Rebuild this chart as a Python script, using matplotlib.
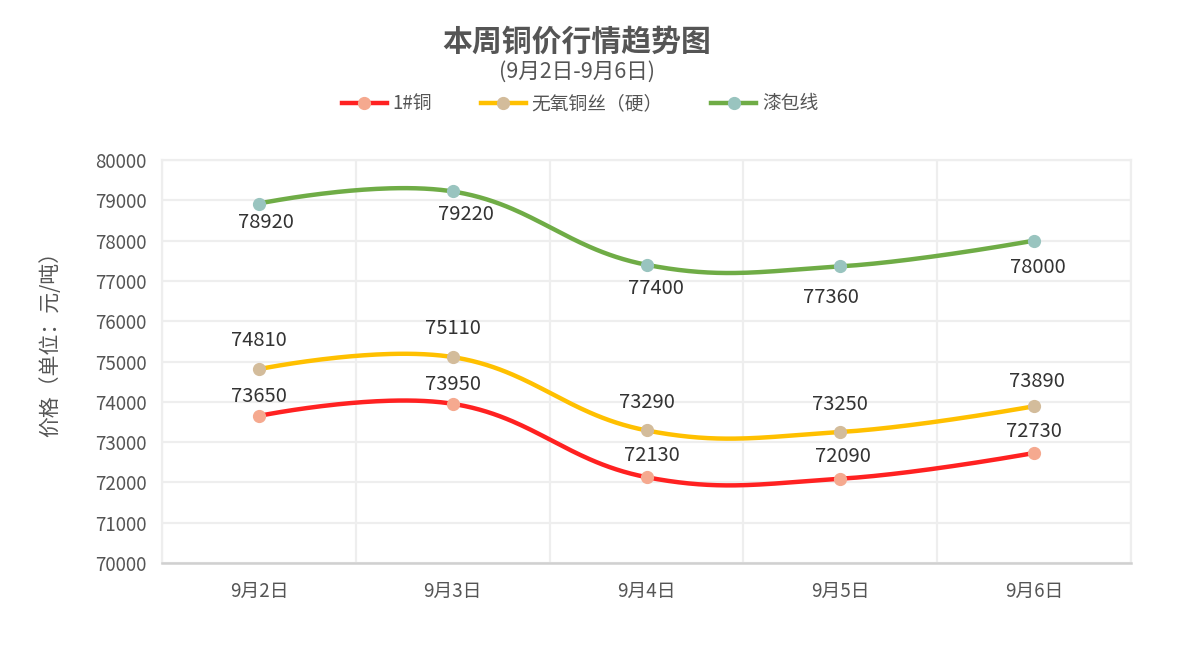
import numpy as np
import matplotlib
matplotlib.use("Agg")
import matplotlib.pyplot as plt
from matplotlib.lines import Line2D

plt.rcParams['font.family'] = ['Noto Sans CJK SC', 'DejaVu Sans']

# ---------------- data ----------------
categories = ['9月2日', '9月3日', '9月4日', '9月5日', '9月6日']
series_names = ['1#铜', '无氧铜丝（硬）', '漆包线']
copy1 = [73650, 73950, 72130, 72090, 72730]
wire_hard = [74810, 75110, 73290, 73250, 73890]
enamel = [78920, 79220, 77400, 77360, 78000]
y_ticks = [70000, 71000, 72000, 73000, 74000, 75000, 76000, 77000, 78000, 79000, 80000]

title = '本周铜价行情趋势图'
subtitle = '(9月2日-9月6日)'
ylabel = '价格（单位：元/吨）'

# ---------------- styles ----------------
line_colors = ['#FF2121', '#FFC000', '#6FAC46']
marker_colors = ['#F5A98F', '#D3BC9B', '#99C4BF']
# label offsets in pixels (dx, dy downwards)
label_offsets = [
    [(0, -19), (0, -19), (5, -22), (3, -22), (0, -21)],
    [(0, -29), (0, -29), (0, -28), (0, -28), (3, -25)],
    [(7, 19), (13, 23), (9, 24), (-9, 31), (4, 27)],
]

W, H = 1180, 646
fig = plt.figure(figsize=(W / 100, H / 100), dpi=100)
fig.patch.set_facecolor('white')
ax_l, ax_r, ax_t, ax_b = 162, 1131, 160, 563
ax = fig.add_axes([ax_l / W, 1 - ax_b / H, (ax_r - ax_l) / W, (ax_b - ax_t) / H])

x = np.arange(len(categories))
ax.set_xlim(-0.5, len(categories) - 0.5)
ax.set_ylim(y_ticks[0], y_ticks[-1])
ax.set_yticks(y_ticks)
ax.set_xticks(x)
ax.set_xticklabels(categories)
ax.set_xticks(np.arange(-0.5, len(categories), 1.0), minor=True)

ax.grid(True, which='major', axis='y', color='#EEEEEE', lw=1.6, zorder=0)
ax.grid(True, which='minor', axis='x', color='#EEEEEE', lw=1.6, zorder=0)
ax.tick_params(axis='both', which='both', length=0)
ax.tick_params(axis='y', labelsize=13.5, labelcolor='#555555', pad=11)
ax.tick_params(axis='x', labelsize=13.5, labelcolor='#555555', pad=13)
for s in ['top', 'right', 'left']:
    ax.spines[s].set_color('#EEEEEE')
    ax.spines[s].set_linewidth(1.6)
ax.spines['bottom'].set_color('#D0D0D0')
ax.spines['bottom'].set_linewidth(1.8)

fig.text(50 / W, 1 - 339 / H, ylabel, rotation=90, ha='center', va='center',
         fontsize=15, color='#555555')


def smooth_curve(xs, ys, smooth=0.4, n=60):
    """ECharts-like bezier smoothing computed in display space."""
    pts = ax.transData.transform(np.column_stack([xs, ys]))
    m = len(pts)
    cps = []
    for i in range(m):
        p = pts[i]
        if i == 0 or i == m - 1:
            cps.append((p.copy(), p.copy()))
            continue
        prev, nxt = pts[i - 1], pts[i + 1]
        v = (nxt - prev) * smooth
        d0 = np.hypot(*(p - prev))
        d1 = np.hypot(*(p - nxt))
        s = d0 + d1
        cps.append((p - v * d0 / s, p + v * d1 / s))
    out = [pts[0]]
    t = np.linspace(0, 1, n)[1:, None]
    for i in range(m - 1):
        p0, c0, c1, p1 = pts[i], cps[i][1], cps[i + 1][0], pts[i + 1]
        seg = ((1 - t) ** 3) * p0 + 3 * ((1 - t) ** 2) * t * c0 + 3 * (1 - t) * t ** 2 * c1 + t ** 3 * p1
        out.extend(seg)
    out = np.array(out)
    return ax.transData.inverted().transform(out)


all_series = [copy1, wire_hard, enamel]
handles = []
for k, vals in enumerate(all_series):
    curve = smooth_curve(x, vals)
    ax.plot(curve[:, 0], curve[:, 1], color=line_colors[k], lw=3.2,
            solid_capstyle='round', zorder=3)
    ax.plot(x, vals, 'o', color=marker_colors[k], ms=8.5, mec=marker_colors[k], zorder=4)
    for i, v in enumerate(vals):
        dx, dy = label_offsets[k][i]
        ax.annotate(str(v), (x[i], v), xytext=(dx, -dy), textcoords='offset pixels',
                    ha='center', va='center', fontsize=14.5, color='#333333', zorder=5)
    handles.append(Line2D([0], [0], color=line_colors[k], lw=3.2, marker='o', ms=8.5,
                          mfc=marker_colors[k], mec=marker_colors[k]))

fig.text(577 / W, 1 - 42 / H, title, ha='center', va='center', fontsize=21.5,
         fontweight='bold', color='#555555')
fig.text(577 / W, 1 - 72 / H, subtitle, ha='center', va='center', fontsize=15.5,
         color='#555555')

leg = fig.legend(handles, series_names, loc='center', bbox_to_anchor=(580 / W, 1 - 104 / H),
                 ncol=3, frameon=False, fontsize=13.5, handlelength=2.4, handletextpad=0.3,
                 columnspacing=2.6, labelcolor='#555555')

fig.savefig('out.png', dpi=100, facecolor='white')
